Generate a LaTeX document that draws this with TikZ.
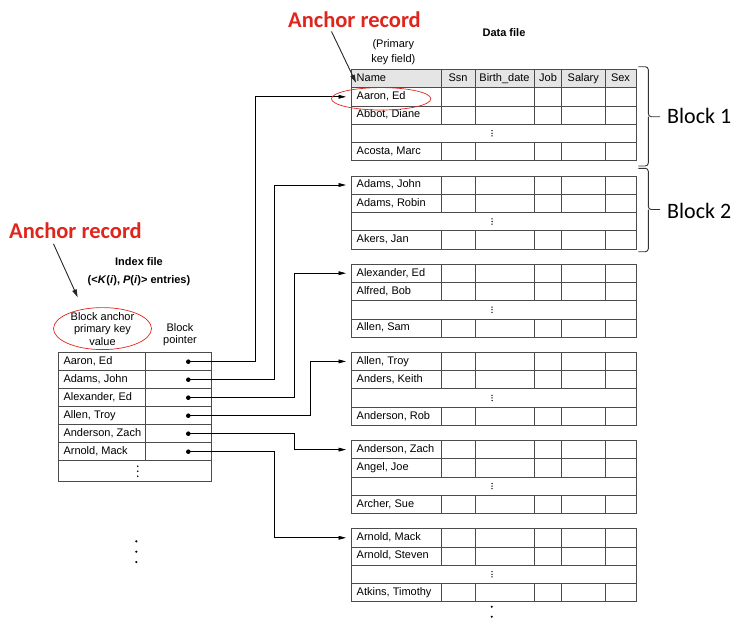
\documentclass[tikz,border=0pt]{standalone}
\usepackage{fontspec}
\setmainfont{Liberation Sans}
\newfontfamily\calibri{Carlito}
\usetikzlibrary{arrows.meta}
\definecolor{anchorred}{RGB}{224,38,28}

\begin{document}
\begin{tikzpicture}[x=1pt,y=-1pt,
  font=\fontsize{11}{12.5}\selectfont,
  grid/.style={draw=black!70, line width=0.7pt},
  entry/.style={inner sep=0pt, anchor=west, text height=7.8pt, text depth=2.2pt},
  dataname/.style={entry, inner xsep=5.5pt},
  colhead/.style={inner sep=0pt, text height=7.8pt, text depth=2.2pt},
  ptr/.style={draw=black, line width=0.75pt, -{Triangle[length=7.5pt,width=3.8pt]}},
  blockdot/.style={circle, fill=black, inner sep=0pt, minimum size=4.6pt},
  anchorlbl/.style={inner sep=0pt, text=anchorred, font=\calibri\bfseries\fontsize{22.5}{26}\selectfont},
  ring/.style={draw=anchorred, line width=0.7pt},
  callout/.style={draw=black!85, line width=0.9pt, -{Triangle[length=8pt,width=4.5pt]}},
  bracket/.style={draw=black!80, line width=0.9pt, rounded corners=3pt},
  blocklbl/.style={anchor=west, inner sep=0pt, font=\calibri\fontsize{22}{24}\selectfont}
]
\useasboundingbox (0,0) rectangle (741,621);

% data file header
\fill[black!10] (351,69.5) rectangle (636,87.7);
\draw[grid] (351,69.5) rectangle (636,87.7);
\foreach \c in {441,475,534,561.5,605} \draw[grid] (\c,69.5) -- (\c,87.7);
\node[entry] (hname) at (356.5,78.6) {Name};
\foreach \n/\x/\lbl in {ssn/458/Ssn, birth/504.5/Birth\_date, job/548/Job, salary/583.3/Salary, sex/620.5/Sex}
  \node[colhead] (h\n) at (\x,78.6) {\lbl};

% data blocks
\foreach \k/\na/\nb/\nc in {1/{Aaron, Ed}/{Abbot, Diane}/{Acosta, Marc},
    2/{Adams, John}/{Adams, Robin}/{Akers, Jan},
    3/{Alexander, Ed}/{Alfred, Bob}/{Allen, Sam},
    4/{Allen, Troy}/{Anders, Keith}/{Anderson, Rob},
    5/{Anderson, Zach}/{Angel, Joe}/{Archer, Sue},
    6/{Arnold, Mack}/{Arnold, Steven}/{Atkins, Timothy}}{
  \pgfmathsetmacro{\rowtop}{87.7+88.2*(\k-1)}
  \draw[grid] (351,\rowtop) rectangle (636,\rowtop+73);
  \foreach \r in {18.25,36.5,54.75}
    \draw[grid] (351,\rowtop+\r) -- (636,\rowtop+\r);
  \foreach \c in {441,475,534,561.5,605}{
    \draw[grid] (\c,\rowtop) -- (\c,\rowtop+36.5);
    \draw[grid] (\c,\rowtop+54.75) -- (\c,\rowtop+73);
  }
  \node[dataname] (d\k) at (351,\rowtop+9.1) {\na};
  \node[dataname] (e\k) at (351,\rowtop+27.4) {\nb};
  \node[dataname] (f\k) at (351,\rowtop+63.9) {\nc};
  \foreach \dy in {-2.6,0,2.6}
    \fill (492,\rowtop+45.6+\dy) circle [radius=0.75pt];
}
\foreach \yy in {606.7,616.7} \fill (491.7,\yy) circle [radius=1.1pt];

% index file
\draw[grid] (58.3,352.7) rectangle (211,481.7);
\foreach \i in {1,...,6} \draw[grid] (58.3,352.7+18*\i) -- (211,352.7+18*\i);
\draw[grid] (145.7,352.7) -- (145.7,460.7);
\foreach \i/\nm in {1/{Aaron, Ed},2/{Adams, John},3/{Alexander, Ed},4/{Allen, Troy},5/{Anderson, Zach},6/{Arnold, Mack}}{
  \node[entry] (k\i) at (63.3,343.7+18*\i) {\nm};
  \node[blockdot] (p\i) at (188.3,343.7+18*\i) {};
}
\foreach \dy in {-5,0,5} \fill (137.7,471.2+\dy) circle [radius=0.9pt];
\foreach \yy in {541.3,551.7,562} \fill (136.3,\yy) circle [radius=1.2pt];

% block pointers
\foreach \i/\xm in {1/255.7,2/274.3,3/294,4/310,5/294,6/274}
  \draw[ptr, shorten >=5pt] (p\i.center) -- (\xm,0 |- p\i.center) |- (d\i.west);

% labels
\node[align=center] (bav) at (102.5,328.6) {Block anchor\\primary key\\value};
\draw[ring] (bav.center) ellipse [x radius=49pt, y radius=21pt];
\node[align=center] (bptr) at (180,334.6) {Block\\pointer};
\node[align=center, font=\bfseries\fontsize{11}{18}\selectfont] (idx) at (139,271.7)
  {Index file\\(<\textit{K}(\textit{i}), \textit{P}(\textit{i})> entries)};
\node[align=center, font=\fontsize{11}{15}\selectfont] (pkf) at (393.3,52.5) {(Primary\\key field)};
\node[font=\bfseries\fontsize{11}{12.5}\selectfont] (dfile) at (504,32.3) {Data file};
\draw[ring] ([yshift=-2pt]d1.center) ellipse [x radius=49.7pt, y radius=11.2pt];

% anchor record callouts
\node[anchorlbl] (ancidx) at (75.5,230.7) {Anchor record};
\node[anchorlbl] (ancdata) at (354.5,19.3) {Anchor record};
\coordinate (ringtip) at (77.7,297.3);
\coordinate (nametip) at (356,82.7);
\draw[callout] ([xshift=-22pt,yshift=-5pt]ancidx.south) -- (ringtip);
\draw[callout] ([xshift=-23pt,yshift=-4pt]ancdata.south) -- (nametip);

% blocks
\draw[bracket] (638.3,66.7) -- (648.3,66.7) -- (648.3,116.7) -- (660,116.7);
\draw[bracket] (648.3,116.7) -- (648.3,166) -- (638.3,166);
\draw[bracket] (638.3,168.3) -- (648.3,168.3) -- (648.3,209.5) -- (660,209.5);
\draw[bracket] (648.3,209.5) -- (648.3,251.7) -- (638.3,251.7);
\node[blocklbl] (blk1) at (667,115.5) {Block 1};
\node[blocklbl] (blk2) at (667,211) {Block 2};
\end{tikzpicture}
\end{document}
